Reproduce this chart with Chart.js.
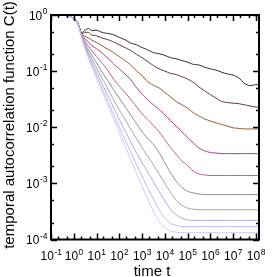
<!DOCTYPE html>
<html><head><meta charset="utf-8">
<script src="https://cdn.jsdelivr.net/npm/chart.js@4"></script>
<style>html,body{margin:0;padding:0;background:#fff}canvas{display:block}</style>
</head><body>
<canvas id="c" width="273" height="277"></canvas>
<script>
// log10 of time t
const logTime = [-1,-0.5,-0.3,-0.1,0.1,0.2,0.35,0.5,0.65,0.8,1.0,1.25,1.5,1.75,2.0,2.25,2.5,2.75,3.0,3.25,3.5,3.75,4.0,4.25,4.5,4.75,5.0,5.25,5.5,5.75,6.0,6.25,6.5,6.75,7.0,7.25,7.5,7.75,8.0,8.15];
// log10 of C(t) for each curve
const series1 = [0,-0.005,-0.012,-0.035,-0.10,-0.17,-0.32,-0.27,-0.24,-0.28,-0.27,-0.31,-0.33,-0.35,-0.40,-0.44,-0.50,-0.53,-0.58,-0.62,-0.67,-0.69,-0.72,-0.76,-0.78,-0.81,-0.84,-0.88,-0.89,-0.93,-0.96,-0.98,-1.02,-1.05,-1.07,-1.12,-1.22,-1.26,-1.24,-1.25];
const series2 = [0,-0.005,-0.012,-0.035,-0.10,-0.17,-0.33,-0.31,-0.31,-0.36,-0.37,-0.41,-0.44,-0.48,-0.53,-0.58,-0.63,-0.70,-0.76,-0.83,-0.90,-0.96,-1.00,-1.04,-1.06,-1.10,-1.14,-1.20,-1.28,-1.35,-1.42,-1.48,-1.54,-1.56,-1.57,-1.58,-1.60,-1.62,-1.64,-1.64];
const series3 = [0,-0.005,-0.012,-0.035,-0.10,-0.17,-0.34,-0.38,-0.41,-0.45,-0.49,-0.55,-0.61,-0.67,-0.74,-0.81,-0.89,-0.99,-1.08,-1.19,-1.25,-1.30,-1.38,-1.46,-1.54,-1.60,-1.66,-1.74,-1.80,-1.85,-1.89,-1.92,-1.95,-1.98,-2.01,-2.02,-2.03,-2.03,-2.03,-2.03];
const series4 = [0,-0.005,-0.012,-0.035,-0.10,-0.17,-0.35,-0.43,-0.48,-0.55,-0.60,-0.68,-0.77,-0.87,-0.96,-1.05,-1.15,-1.29,-1.41,-1.51,-1.60,-1.68,-1.78,-1.88,-1.98,-2.08,-2.18,-2.28,-2.37,-2.42,-2.45,-2.46,-2.47,-2.47,-2.47,-2.47,-2.47,-2.47,-2.47,-2.47];
const series5 = [0,-0.005,-0.012,-0.035,-0.10,-0.17,-0.36,-0.48,-0.56,-0.64,-0.74,-0.86,-0.99,-1.14,-1.27,-1.38,-1.50,-1.63,-1.76,-1.86,-1.97,-2.08,-2.22,-2.36,-2.48,-2.60,-2.68,-2.78,-2.83,-2.85,-2.86,-2.86,-2.86,-2.86,-2.86,-2.86,-2.86,-2.86,-2.86,-2.86];
const series6 = [0,-0.005,-0.013,-0.04,-0.11,-0.19,-0.37,-0.52,-0.62,-0.72,-0.85,-1.02,-1.17,-1.33,-1.48,-1.63,-1.78,-1.93,-2.08,-2.20,-2.31,-2.45,-2.63,-2.81,-2.96,-3.07,-3.14,-3.17,-3.19,-3.20,-3.20,-3.20,-3.20,-3.20,-3.20,-3.20,-3.20,-3.20,-3.20,-3.20];
const series7 = [0,-0.005,-0.013,-0.04,-0.11,-0.19,-0.38,-0.55,-0.67,-0.79,-0.94,-1.13,-1.32,-1.51,-1.69,-1.86,-2.03,-2.20,-2.36,-2.52,-2.67,-2.83,-3.00,-3.16,-3.30,-3.39,-3.44,-3.46,-3.47,-3.47,-3.47,-3.47,-3.47,-3.47,-3.47,-3.47,-3.47,-3.47,-3.47,-3.47];
const series8 = [0,-0.005,-0.013,-0.04,-0.11,-0.19,-0.39,-0.57,-0.71,-0.85,-1.02,-1.23,-1.44,-1.65,-1.86,-2.06,-2.26,-2.45,-2.63,-2.80,-2.97,-3.14,-3.31,-3.46,-3.56,-3.62,-3.65,-3.66,-3.66,-3.66,-3.66,-3.66,-3.66,-3.66,-3.66,-3.66,-3.66,-3.66,-3.66,-3.66];
const series9 = [0,-0.005,-0.013,-0.04,-0.11,-0.19,-0.40,-0.59,-0.74,-0.89,-1.08,-1.31,-1.54,-1.77,-2.00,-2.22,-2.44,-2.66,-2.87,-3.08,-3.28,-3.47,-3.62,-3.71,-3.75,-3.77,-3.77,-3.77,-3.77,-3.77,-3.77,-3.77,-3.77,-3.77,-3.77,-3.77,-3.77,-3.77,-3.77,-3.77];
const series10 = [0,-0.005,-0.013,-0.04,-0.11,-0.19,-0.41,-0.61,-0.77,-0.93,-1.13,-1.37,-1.61,-1.85,-2.09,-2.33,-2.57,-2.81,-3.05,-3.28,-3.50,-3.68,-3.79,-3.85,-3.87,-3.88,-3.88,-3.88,-3.88,-3.88,-3.88,-3.88,-3.88,-3.88,-3.88,-3.88,-3.88,-3.88,-3.88,-3.88];
const colors = ['#2b2b2b','#5e3535','#93572e','#9c3d7c','#b45c92','#8c8c8c','#a3a3a8','#a9a9dc','#b9b9ee','#c9c9fa'];
const xTickExponents = [-1,0,1,2,3,4,5,6,7,8];
const yTickExponents = [0,-1,-2,-3,-4];
const xTitle = 'time t';
const yTitle = 'temporal autocorrelation function C(t)';

const allSeries = [series1,series2,series3,series4,series5,series6,series7,series8,series9,series10];
const datasets = allSeries.map((s,i)=>({
  data: s.map((v,j)=>({x: Math.pow(10, logTime[j]), y: Math.pow(10, v)})),
  borderColor: colors[i], borderWidth: 1, pointRadius: 0, tension: 0.25, fill: false
})).reverse();

const FONT = '"Liberation Sans", Arial, sans-serif';
function drawPow(ctx, exp, x, y, align){
  ctx.font = '12px ' + FONT;
  const w1 = ctx.measureText('10').width;
  ctx.font = '8.5px ' + FONT;
  const es = String(exp);
  const w2 = ctx.measureText(es).width;
  let x0;
  if (align === 'center') x0 = x - (w1 + w2)/2; else x0 = x - (w1 + w2);
  ctx.textAlign = 'left';
  ctx.textBaseline = 'alphabetic';
  ctx.font = '12px ' + FONT;
  ctx.fillText('10', x0, y);
  ctx.font = '8.5px ' + FONT;
  ctx.fillText(es, x0 + w1 + 0.5, y - 5.5);
}
const frame = {
  id: 'frame',
  afterDraw(chart){
    const {ctx, chartArea: a, scales: {x, y}} = chart;
    ctx.save();
    ctx.strokeStyle = '#000'; ctx.fillStyle = '#000';
    ctx.lineWidth = 1.5;
    ctx.beginPath();
    const majL = 6, minL = 3;
    xTickExponents.forEach(e=>{
      [1,2,5].forEach(m=>{
        const v = m*Math.pow(10,e);
        if (v < x.min || v > x.max) return;
        const px = Math.round(x.getPixelForValue(v)) + 0.5;
        const L = m===1 ? majL : minL;
        ctx.moveTo(px, a.bottom); ctx.lineTo(px, a.bottom - L);
        ctx.moveTo(px, a.top); ctx.lineTo(px, a.top + L);
      });
    });
    yTickExponents.forEach(e=>{
      [1,2,5].forEach(m=>{
        const v = m*Math.pow(10,e);
        if (v < y.min || v > y.max) return;
        const py = Math.round(y.getPixelForValue(v)) + 0.5;
        const L = m===1 ? majL : minL;
        ctx.moveTo(a.left, py); ctx.lineTo(a.left + L, py);
        ctx.moveTo(a.right, py); ctx.lineTo(a.right - L, py);
      });
    });
    ctx.stroke();
    ctx.lineWidth = 2;
    ctx.strokeRect(a.left, a.top, a.right - a.left, a.bottom - a.top);
    xTickExponents.forEach(e=>{
      drawPow(ctx, e, x.getPixelForValue(Math.pow(10,e)), 260, 'center');
    });
    yTickExponents.forEach(e=>{
      drawPow(ctx, e, 47, y.getPixelForValue(Math.pow(10,e)) + 4.5, 'right');
    });
    ctx.font = '15px ' + FONT;
    ctx.textAlign = 'center';
    ctx.textBaseline = 'alphabetic';
    ctx.fillText(xTitle, 152, 276);
    ctx.translate(14, 125);
    ctx.rotate(-Math.PI/2);
    ctx.fillText(yTitle, 0, 0);
    ctx.restore();
  }
};

new Chart(document.getElementById('c'), {
  type: 'line',
  data: { datasets },
  options: {
    responsive: false, animation: false,
    layout: { padding: { left: 51, right: 14, top: 15, bottom: 37.5 } },
    plugins: { legend: { display: false }, tooltip: { enabled: false } },
    scales: {
      x: { type: 'logarithmic', min: 0.1, max: 1.38e8, display: false },
      y: { type: 'logarithmic', min: 1e-4, max: 1, display: false }
    }
  },
  plugins: [frame]
});
</script>
</body></html>
